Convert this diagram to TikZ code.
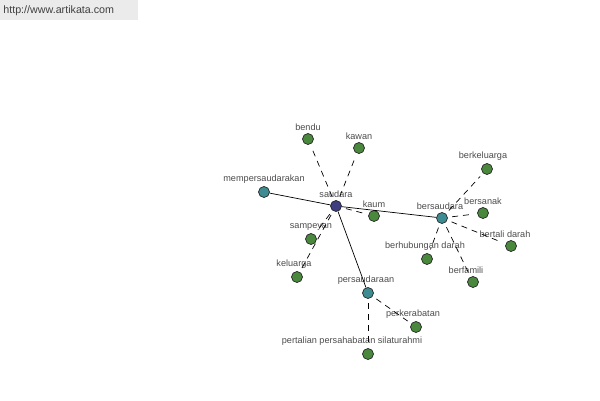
\documentclass[tikz,border=0pt]{standalone}
\usepackage{fontspec}
\setmainfont{Liberation Sans}
\usetikzlibrary{positioning}

\definecolor{leafgreen}{RGB}{74,136,62}
\definecolor{hubteal}{RGB}{62,140,146}
\definecolor{rootblue}{RGB}{62,62,128}

\tikzset{
  word/.style={circle, draw=black!85, line width=0.4pt, minimum size=0.22cm, inner sep=0pt, fill=leafgreen},
  hub/.style={word, fill=hubteal},
  root/.style={word, fill=rootblue},
  lbl/.style={font=\fontsize{5.2}{6}\selectfont, text=black!70, inner sep=0.5pt, label distance=0.8pt},
  link/.style={black, line width=0.4pt},
  syn/.style={black, line width=0.4pt, dash pattern=on 3.4pt off 2.8pt, shorten <=2.5pt, shorten >=2.5pt}
}

\begin{document}
\begin{tikzpicture}[x=0.02cm, y=-0.02cm]

	\useasboundingbox (0,0) rectangle (600,400);
	\fill[white] (0,0) rectangle (600,400);

	% site banner
	\fill[black!8] (0,0) rectangle (138,20);
	\node[anchor=west, inner sep=0pt, font=\fontsize{6.1}{7}\selectfont, text=black!75] (site) at (3,11) {http://www.artikata.com};

	% main word
	\node[root, label={[lbl]above:saudara}] (saudara) at (336,206) {};

	% hubs
	\node[hub, label={[lbl]above:mempersaudarakan}] (mempersaudarakan) at (264,192) {};
	\node[hub, label={[lbl,xshift=-0.04cm]above:bersaudara}] (bersaudara) at (442,218) {};
	\node[hub, label={[lbl,xshift=-0.04cm]above:persaudaraan}] (persaudaraan) at (368,293) {};

	% leaves of saudara
	\node[word, label={[lbl]above:bendu}] (bendu) at (308,139) {};
	\node[word, label={[lbl]above:kawan}] (kawan) at (359,148) {};
	\node[word, label={[lbl]above:kaum}] (kaum) at (374,216) {};
	\node[word, label={[lbl]above:sampeyan}] (sampeyan) at (311,239) {};
	\node[word, label={[lbl,xshift=-0.06cm]above:keluarga}] (keluarga) at (297,277) {};

	% leaves of bersaudara
	\node[word, label={[lbl,xshift=-0.08cm]above:berkeluarga}] (berkeluarga) at (487,169) {};
	\node[word, label={[lbl]above:bersanak}] (bersanak) at (483,213) {};
	\node[word, label={[lbl,xshift=-0.12cm]above:bertali darah}] (bertali) at (511,246) {};
	\node[word, label={[lbl,xshift=-0.04cm]above:berhubungan darah}] (berhubungan) at (427,259) {};
	\node[word, label={[lbl,xshift=-0.14cm]above:berfamili}] (berfamili) at (473,282) {};

	% leaves of persaudaraan
	\node[word, label={[lbl,xshift=-0.06cm]above:perkerabatan}] (perkerabatan) at (416,327) {};
	\node[word, label={[lbl,xshift=-0.32cm]above:pertalian persahabatan silaturahmi}] (pertalian) at (368,354) {};

	% solid links
	\draw[link] (saudara) -- (mempersaudarakan);
	\draw[link] (saudara) -- (bersaudara);
	\draw[link] (saudara) -- (persaudaraan);

	% dashed links
	\foreach \w in {bendu,kawan,kaum,sampeyan,keluarga}
		\draw[syn] (saudara) -- (\w);
	\foreach \w in {berkeluarga,bersanak,bertali,berhubungan,berfamili}
		\draw[syn] (bersaudara) -- (\w);
	\foreach \w in {perkerabatan,pertalian}
		\draw[syn] (persaudaraan) -- (\w);

\end{tikzpicture}
\end{document}
